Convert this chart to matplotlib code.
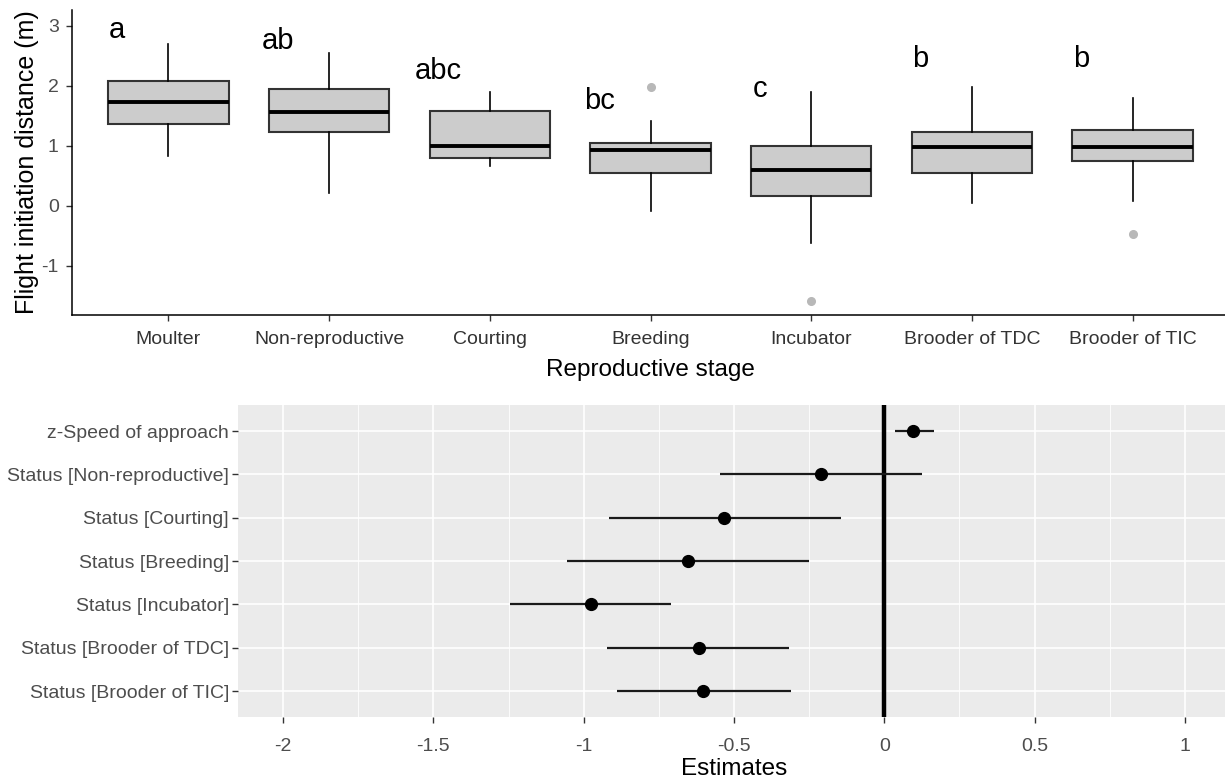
import numpy as np
import matplotlib
matplotlib.use('Agg')
import matplotlib.pyplot as plt

plt.rcParams['font.family'] = ['Liberation Sans', 'DejaVu Sans']

# top panel: flight initiation distance by reproductive stage
stages = ['Moulter', 'Non-reproductive', 'Courting', 'Breeding', 'Incubator',
          'Brooder of TDC', 'Brooder of TIC']
whisk_lo = [0.82, 0.21, 0.66, -0.09, -0.62, 0.05, 0.07]
q1 = [1.36, 1.22, 0.80, 0.54, 0.16, 0.54, 0.74]
median = [1.72, 1.56, 1.00, 0.92, 0.59, 0.97, 0.97]
q3 = [2.08, 1.94, 1.57, 1.04, 0.99, 1.22, 1.26]
whisk_hi = [2.70, 2.55, 1.90, 1.41, 1.90, 1.98, 1.79]
outliers = [[], [], [], [1.97], [-1.59], [], [-0.48]]
letters = ['a', 'ab', 'abc', 'bc', 'c', 'b', 'b']
letter_y = [2.92, 2.74, 2.24, 1.74, 1.94, 2.44, 2.44]

# bottom panel: model estimates with confidence intervals
terms = ['z-Speed of approach', 'Status [Non-reproductive]', 'Status [Courting]',
         'Status [Breeding]', 'Status [Incubator]', 'Status [Brooder of TDC]',
         'Status [Brooder of TIC]']
estimate = [0.096, -0.21, -0.534, -0.654, -0.977, -0.617, -0.603]
ci_low = [0.034, -0.548, -0.917, -1.056, -1.244, -0.924, -0.89]
ci_high = [0.165, 0.126, -0.143, -0.25, -0.708, -0.316, -0.31]

W, H = 1225, 778
fig = plt.figure(figsize=(W / 100, H / 100), dpi=100)

# ---- top panel
ax1 = fig.add_axes([72 / W, (H - 315) / H, (1229 - 72) / W, (315 - 10) / H])
pos = np.arange(1, len(stages) + 1)
stats = []
for i in range(len(stages)):
    stats.append(dict(med=median[i], q1=q1[i], q3=q3[i], whislo=whisk_lo[i],
                      whishi=whisk_hi[i], fliers=outliers[i]))
ax1.bxp(stats, positions=pos, widths=0.75, patch_artist=True, showcaps=False,
        boxprops=dict(facecolor='#CCCCCC', edgecolor='#333333', linewidth=1.5),
        medianprops=dict(color='black', linewidth=2.8),
        whiskerprops=dict(color='black', linewidth=1.2),
        flierprops=dict(marker='o', markersize=5.5, markerfacecolor='#B8B8B8',
                        markeredgecolor='#B8B8B8'))
for i, lab in enumerate(letters):
    ax1.text(pos[i] - 0.32, letter_y[i], lab, fontsize=21, ha='center',
             va='center', color='black')
ax1.set_xlim(0.4, 7.6)
ax1.set_ylim(-1.825, 3.26)
ax1.set_xticks(pos)
ax1.set_xticklabels(stages, fontsize=14, color='#333333')
ax1.set_yticks([-1, 0, 1, 2, 3])
ax1.set_yticklabels(['-1', '0', '1', '2', '3'], fontsize=14, color='#4D4D4D')
ax1.spines['top'].set_visible(False)
ax1.spines['right'].set_visible(False)
ax1.spines['left'].set_linewidth(1.1)
ax1.spines['bottom'].set_linewidth(1.1)
ax1.tick_params(length=4.5, color='#333333', width=1)
ax1.tick_params(axis='x', pad=7)
ax1.tick_params(axis='y', pad=5)
ax1.set_ylabel('Flight initiation distance (m)', fontsize=18, labelpad=2)
ax1.set_xlabel('Reproductive stage', fontsize=17.5, labelpad=8)

# ---- bottom panel
ax2 = fig.add_axes([238 / W, (H - 717) / H, (1230 - 238) / W, (717 - 405) / H])
ax2.set_facecolor('#EBEBEB')
rows = np.arange(1, len(terms) + 1)
ax2.set_xlim(-2.15, 1.15)
ax2.set_ylim(7.6, 0.4)
ax2.set_xticks([-2, -1.5, -1, -0.5, 0, 0.5, 1])
ax2.set_xticklabels(['-2', '-1.5', '-1', '-0.5', '0', '0.5', '1'],
                    fontsize=14, color='#4D4D4D')
ax2.set_xticks([-1.75, -1.25, -0.75, -0.25, 0.25, 0.75], minor=True)
ax2.set_yticks(rows)
ax2.set_yticklabels(terms, fontsize=14, color='#4D4D4D')
ax2.grid(True, which='major', color='white', linewidth=1.2)
ax2.grid(True, which='minor', axis='x', color='white', linewidth=0.6)
ax2.set_axisbelow(True)
for s in ax2.spines.values():
    s.set_visible(False)
ax2.tick_params(which='major', length=4, color='#333333', width=1)
ax2.tick_params(axis='x', pad=11)
ax2.tick_params(axis='y', pad=2.5)
ax2.tick_params(which='minor', length=0)
ax2.axvline(0, color='black', linewidth=3.2, zorder=2)
ax2.hlines(rows, ci_low, ci_high, color='#1A1A1A', linewidth=1.6, zorder=3)
ax2.plot(estimate, rows, 'o', color='black', markersize=8.5, zorder=4)
ax2.set_xlabel('Estimates', fontsize=17.5, labelpad=2)

fig.savefig('out.png', dpi=100)
